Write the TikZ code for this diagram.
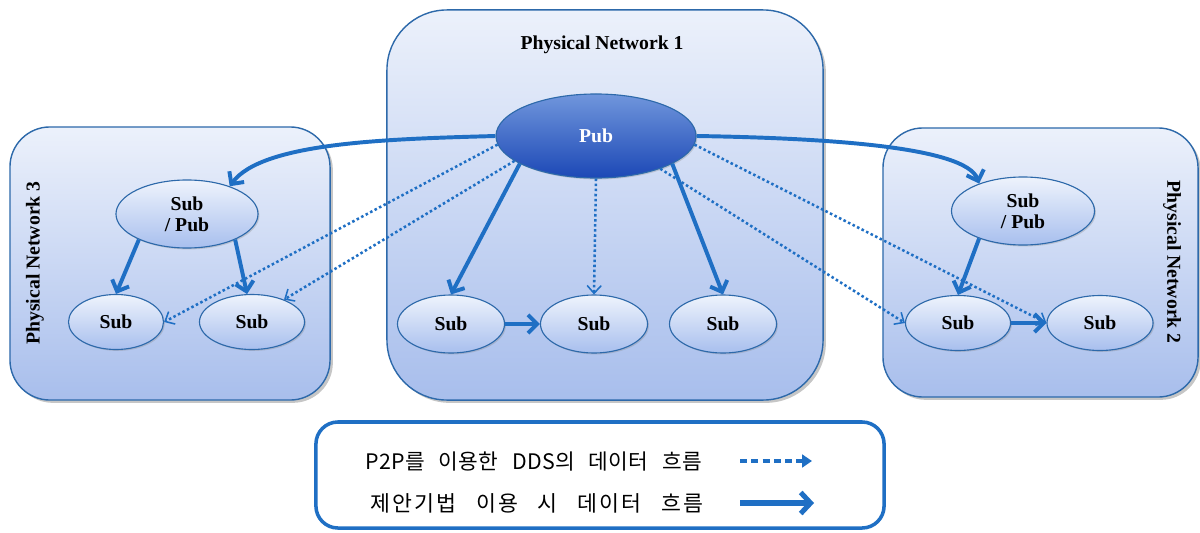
\documentclass[tikz,border=0pt]{standalone}
\usepackage{fontspec}
\setmainfont{Liberation Serif}
\newfontfamily\kr[WordSpace=2.6,LetterSpace=2]{Noto Sans CJK KR}
\newfontfamily\krw[WordSpace=2.8,LetterSpace=10]{Noto Sans CJK KR}
\usetikzlibrary{arrows.meta,shapes.geometric,shadows}
\definecolor{boxtop}{RGB}{236,241,251}
\definecolor{boxbot}{RGB}{168,190,236}
\definecolor{boxline}{RGB}{45,105,170}
\definecolor{arrowblue}{RGB}{31,111,196}
\definecolor{subtop}{RGB}{238,243,252}
\definecolor{subbot}{RGB}{168,191,238}
\definecolor{pubtop}{RGB}{112,150,220}
\definecolor{pubbot}{RGB}{28,72,182}
\tikzset{
  netbox/.style={draw=boxline, line width=1pt, top color=boxtop, bottom color=boxbot,
    inner sep=0pt, drop shadow={shadow xshift=2pt, shadow yshift=-2pt, opacity=0.45}},
  legbox/.style={draw=arrowblue, line width=2.5pt, fill=white, rounded corners=0.55cm, inner sep=0pt},
  subnode/.style={ellipse, draw=boxline, line width=0.8pt, top color=subtop, bottom color=subbot,
    inner sep=0pt, font=\fontsize{14}{15}\selectfont\bfseries, align=center,
    drop shadow={shadow xshift=1pt, shadow yshift=-1pt, opacity=0.3}},
  pubnode/.style={ellipse, draw=boxline, line width=0.8pt, top color=pubtop, bottom color=pubbot,
    inner sep=0pt, text=white, font=\fontsize{14}{15}\selectfont\bfseries,
    drop shadow={shadow xshift=1pt, shadow yshift=-1pt, opacity=0.3}},
  lbl/.style={font=\fontsize{14}{15}\selectfont\bfseries, inner sep=0pt},
  solidarr/.style={draw=arrowblue, line width=2.8pt, -{Straight Barb[length=6.5pt,width=13pt]}},
  dotarr/.style={draw=arrowblue, line width=1.8pt, dash pattern=on 1.8pt off 1.8pt,
    -{Straight Barb[length=5.5pt,width=10pt,line width=1.1pt]}},
  legtext/.style={font=\fontsize{15}{17}\selectfont, inner sep=0pt, anchor=west},
}
\begin{document}
\begin{tikzpicture}[x=0.025cm,y=-0.025cm]
\useasboundingbox (0,0) rectangle (1200,532);
% network boxes
\node[netbox, rounded corners=1.5cm, minimum width=10.9cm, minimum height=9.75cm] (pn1) at (605,205) {};
\node[netbox, rounded corners=1cm, minimum width=8cm, minimum height=6.825cm] (pn3) at (170,263.5) {};
\node[netbox, rounded corners=1cm, minimum width=7.875cm, minimum height=6.725cm] (pn2) at (1040.5,262.5) {};
% labels
\node[lbl] (l1) at (602,45) {Physical Network 1};
\node[lbl, rotate=90] (l3) at (35,263) {Physical Network 3};
\node[lbl, rotate=-90] (l2) at (1172,262) {Physical Network 2};
% nodes
\node[pubnode, minimum width=5cm, minimum height=2.1cm] (pub) at (596,136) {Pub};
\node[subnode, minimum width=2.675cm, minimum height=1.45cm] (s1a) at (451,324) {Sub};
\node[subnode, minimum width=2.675cm, minimum height=1.45cm] (s1b) at (594,324) {Sub};
\node[subnode, minimum width=2.675cm, minimum height=1.45cm] (s1c) at (723,324) {Sub};
\node[subnode, minimum width=3.55cm, minimum height=1.7cm] (sp3) at (187,214) {Sub\\/ Pub};
\node[subnode, minimum width=2.375cm, minimum height=1.375cm] (s3l) at (116,322) {Sub};
\node[subnode, minimum width=2.625cm, minimum height=1.375cm] (s3r) at (252,322) {Sub};
\node[subnode, minimum width=3.575cm, minimum height=1.7cm] (sp2) at (1023,211) {Sub\\/ Pub};
\node[subnode, minimum width=2.625cm, minimum height=1.375cm] (s2l) at (958,323) {Sub};
\node[subnode, minimum width=2.65cm, minimum height=1.375cm] (s2r) at (1100,323) {Sub};
% dotted (P2P) flows
\draw[dotarr] (pub.185) -- (s3l.east);
\draw[dotarr] (pub.197) -- (s3r.35);
\draw[dotarr] (pub.south) -- (s1b.north);
\draw[dotarr] (pub.-5) -- (s2r.west);
\draw[dotarr] (pub.333) -- (s2l.west);
% solid flows
\draw[solidarr] (pub.west) .. controls (390,139) and (262,142) .. (sp3.33);
\draw[solidarr] (pub.east) .. controls (820,138) and (966,146) .. (sp2.148);
\draw[solidarr] (pub.200) -- (s1a.north);
\draw[solidarr] (pub.340) -- (s1c.north);
\draw[solidarr] (s1a.east) -- (s1b.west);
\draw[solidarr] (sp3.208) -- (s3l.north);
\draw[solidarr] (sp3.332) -- (s3r.100);
\draw[solidarr] (sp2.212) -- (s2l.north);
\draw[solidarr] (s2l.east) -- (s2r.west);
% legend
\node[legbox, minimum width=14.2cm, minimum height=2.65cm] (leg) at (600,475) {};
\node[legtext, font=\kr\fontsize{15.2}{17}\selectfont] (t1) at (365,461) {P2P를 이용한 DDS의 데이터 흐름};
\node[legtext, font=\krw\fontsize{15.4}{17}\selectfont] (t2) at (370,503) {제안기법 이용 시 데이터 흐름};
\coordinate (a1s) at (740,461);
\coordinate (a1e) at (812,461);
\coordinate (a2s) at (740,503);
\coordinate (a2e) at (814,503);
\draw[draw=arrowblue, line width=2.2pt, dash pattern=on 5pt off 3pt, -{Triangle[length=7pt,width=9pt]}] (a1s) -- (a1e);
\draw[draw=arrowblue, line width=3.6pt, -{Straight Barb[length=7pt,width=15pt]}] (a2s) -- (a2e);
\end{tikzpicture}
\end{document}
